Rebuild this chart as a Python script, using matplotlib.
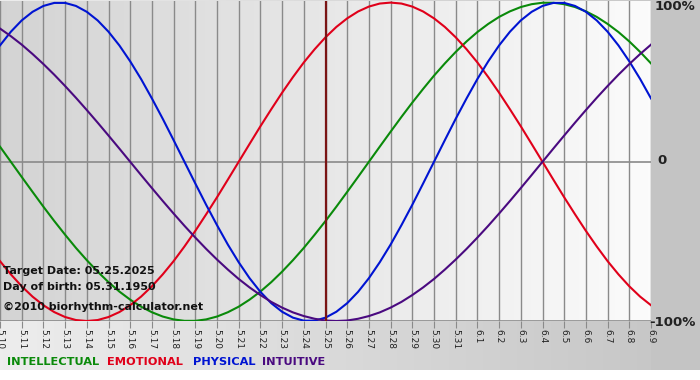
import numpy as np
import matplotlib
matplotlib.use("Agg")
import matplotlib.pyplot as plt

# day labels along the bottom
days = ["5.10", "5.11", "5.12", "5.13", "5.14", "5.15", "5.16", "5.17", "5.18",
        "5.19", "5.20", "5.21", "5.22", "5.23", "5.24", "5.25", "5.26", "5.27",
        "5.28", "5.29", "5.30", "5.31", "6.1", "6.2", "6.3", "6.4", "6.5", "6.6",
        "6.7", "6.8", "6.9"]

# cycle values every half day (-1 .. 1)
intellectual = [0.095, 0.0, -0.095, -0.189, -0.282, -0.372, -0.458, -0.541,
                -0.618, -0.690, -0.756, -0.815, -0.866, -0.910, -0.945, -0.972,
                -0.990, -0.999, -0.999, -0.990, -0.972, -0.945, -0.910, -0.866,
                -0.815, -0.756, -0.690, -0.618, -0.541, -0.458, -0.372, -0.282,
                -0.189, -0.095,
                0.0, 0.095, 0.189, 0.282, 0.372, 0.458, 0.541, 0.618, 0.690,
                0.756, 0.815, 0.866, 0.910, 0.945, 0.972, 0.990, 0.999, 0.999,
                0.990, 0.972, 0.945, 0.910, 0.866, 0.815, 0.756, 0.690, 0.618]
emotional = [-0.624, -0.707, -0.782, -0.847, -0.901, -0.944, -0.975, -0.994,
             -1.0, -0.994, -0.975, -0.944, -0.901, -0.847, -0.782, -0.707,
             -0.624, -0.532, -0.434, -0.330, -0.223, -0.112,
             0.0, 0.112, 0.223, 0.330, 0.434, 0.532, 0.624, 0.707, 0.782,
             0.847, 0.901, 0.944, 0.975, 0.994, 1.0, 0.994, 0.975, 0.944,
             0.901, 0.847, 0.782, 0.707, 0.624, 0.532, 0.434, 0.330, 0.223,
             0.112, 0.0, -0.112, -0.223, -0.330, -0.434, -0.532, -0.624,
             -0.707, -0.782, -0.847, -0.901]
physical = [0.731, 0.817, 0.888, 0.942, 0.979, 0.998, 0.998, 0.979, 0.942,
            0.888, 0.817, 0.731, 0.631, 0.520, 0.398, 0.270, 0.136, 0.0,
            -0.136, -0.270, -0.398, -0.520, -0.631, -0.731, -0.817, -0.888,
            -0.942, -0.979, -0.998, -0.998, -0.979, -0.942, -0.888, -0.817,
            -0.731, -0.631, -0.520, -0.398, -0.270, -0.136,
            0.0, 0.136, 0.270, 0.398, 0.520, 0.631, 0.731, 0.817, 0.888,
            0.942, 0.979, 0.998, 0.998, 0.979, 0.942, 0.888, 0.817, 0.731,
            0.631, 0.520, 0.398]
intuitive = [0.837, 0.789, 0.736, 0.677, 0.614, 0.547, 0.476, 0.402, 0.325,
             0.246, 0.165, 0.083, 0.0, -0.083, -0.165, -0.246, -0.325, -0.402,
             -0.476, -0.547, -0.614, -0.677, -0.736, -0.789, -0.837, -0.880,
             -0.916, -0.946, -0.969, -0.986, -0.997, -1.0, -0.997, -0.986,
             -0.969, -0.946, -0.916, -0.880, -0.837, -0.789, -0.736, -0.677,
             -0.614, -0.547, -0.476, -0.402, -0.325, -0.246, -0.165, -0.083,
             0.0, 0.083, 0.165, 0.246, 0.325, 0.402, 0.476, 0.547, 0.614,
             0.677, 0.736]

names = ["INTELLECTUAL", "EMOTIONAL", "PHYSICAL", "INTUITIVE"]
series = [intellectual, emotional, physical, intuitive]
colors = ["#0a8a0a", "#e0001a", "#0014d2", "#4a0a80"]
target_day = "5.25"

W, H = 700, 380
fig = plt.figure(figsize=(W / 100, H / 100), dpi=100)

# outer background
bg = fig.add_axes([0, 0, 1, 1])
xx = np.linspace(0, 1, W)
outer = np.tile(0.93 - 0.16 * xx, (H, 1))
outer[:, 651:] = 0.77
outer[370:, :] = 1.0
bg.imshow(np.dstack([outer] * 3), aspect="auto", extent=[0, 1, 0, 1])
bg.set_axis_off()

ax = fig.add_axes([0, 59 / H, 651 / W, 320 / H])
x = np.arange(len(days))
grad = np.tile(np.linspace(0.83, 0.985, 200), (10, 1))
ax.imshow(np.dstack([grad] * 3), aspect="auto", extent=[0, len(days) - 1, -1, 1.01],
          zorder=0)
ax.set_xlim(0, len(days) - 1)
ax.set_ylim(-1, 1.01)

for xi in x:
    ax.axvline(xi, color="#8a8a8a", lw=1.0, zorder=1)
for yv in [0, -1]:
    ax.axhline(yv, color="#8a8a8a", lw=1.2, zorder=1)

for vals, c in zip(series, colors):
    xs = np.arange(len(vals)) / 2
    ax.plot(xs, vals, color=c, lw=1.5, zorder=3)

ax.axvline(days.index(target_day), color="#7a1414", lw=1.6, zorder=4)

ax.set_xticks(x)
ax.set_xticklabels(days, rotation=270, fontsize=6.5, color="#222222")
ax.tick_params(axis="x", length=5, color="#8a8a8a", pad=1)
ax.set_yticks([])
for s in ax.spines.values():
    s.set_visible(False)

def px(xp, yp):
    return xp / W, 1 - yp / H

fig.text(*px(655, 7), "100%", fontsize=9.5, fontweight="bold", va="center", color="#222222")
fig.text(*px(657, 161), "0", fontsize=9.5, fontweight="bold", va="center", color="#222222")
fig.text(*px(649, 322), "-100%", fontsize=9.5, fontweight="bold", va="center", color="#222222")

fig.text(*px(3, 271), "Target Date: 05.25.2025", fontsize=8, fontweight="bold", va="center", color="#111111")
fig.text(*px(3, 287), "Day of birth: 05.31.1950", fontsize=8, fontweight="bold", va="center", color="#111111")
fig.text(*px(3, 307), "\u00a92010 biorhythm-calculator.net", fontsize=8, fontweight="bold", va="center", color="#111111")

legend_x = [7, 107, 193, 262]
for lx, n, c in zip(legend_x, names, colors):
    fig.text(*px(lx, 362), n, fontsize=8.2, fontweight="bold", va="center", color=c)

fig.savefig("out.png", dpi=100)
